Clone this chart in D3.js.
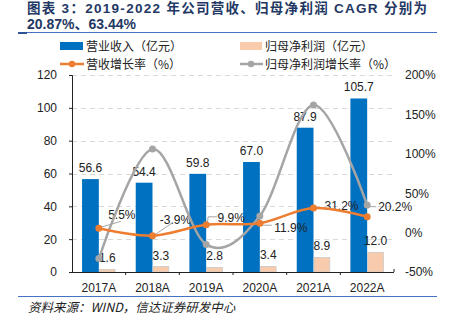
<!DOCTYPE html>
<html><head><meta charset="utf-8">
<script src="https://cdn.jsdelivr.net/npm/d3@7"></script>
<style>body{margin:0;background:#fff}svg{display:block}</style>
</head><body><svg id="c" width="453" height="333"></svg>
<script>
const categories = ["2017A","2018A","2019A","2020A","2021A","2022A"];
const revenue = [56.6,54.4,59.8,67.0,87.9,105.7];
const netProfit = [1.6,3.3,2.8,3.4,8.9,12.0];
const revenueGrowth = [5.5,-3.9,9.9,11.9,31.2,20.2];
const profitGrowth = [-33,106,-15,21,162,35];
const leftTicks = [0,20,40,60,80,100,120];
const rightTicks = [-50,0,50,100,150,200];
const titleLines = ["图表 3：2019-2022 年公司营收、归母净利润 CAGR 分别为","20.87%、63.44%"];
const legendLabels = ["营业收入（亿元）","归母净利润（亿元）","营收增长率（%）","归母净利润增长率（%）"];
const sourceText = "资料来源：WIND，信达证券研发中心";

const FONT = '"Liberation Sans", Arial, "Noto Sans CJK SC", sans-serif';
const CJK = '"Noto Sans CJK SC", "Liberation Sans", sans-serif';
const BLUE = "#0070C0", PEACH = "#F8CBAD", ORANGE = "#ED7D31", GRAY = "#A5A5A5", NAVY = "#1F3864";
const svg = d3.select("#c");
const L = 72, R = 394, T = 75, B = 272;

const x = d3.scaleBand().domain(categories).range([L, R]);
const inner = d3.scaleBand().domain([0,1]).range([0, x.bandwidth()]).paddingOuter(0.6);
const yL = d3.scaleLinear().domain([0,120]).range([B, T]);
const yR = d3.scaleLinear().domain([-50,200]).range([B, T]);
const cx = c => x(c) + x.bandwidth()/2;

// title
svg.append("text").attr("x", 27).attr("y", 13).attr("font-family", FONT).attr("font-weight","bold")
  .attr("font-size", 13.5).attr("fill", NAVY).attr("textLength", 400).attr("lengthAdjust","spacing").text(titleLines[0]);
svg.append("text").attr("x", 27).attr("y", 29).attr("font-family", FONT).attr("font-weight","bold")
  .attr("font-size", 14).attr("fill", NAVY).text(titleLines[1]);
svg.append("line").attr("x1",18).attr("x2",437).attr("y1",32.5).attr("y2",32.5).attr("stroke","#4472C4").attr("stroke-width",1.2);
svg.append("line").attr("x1",18).attr("x2",27).attr("y1",33).attr("y2",33).attr("stroke","#2F5597").attr("stroke-width",2);

// legend
const lg = svg.append("g").attr("font-family", CJK).attr("font-size", 12).attr("fill","#222");
lg.append("rect").attr("x",60).attr("y",42).attr("width",23).attr("height",8).attr("fill",BLUE);
lg.append("text").attr("x",86).attr("y",51).text(legendLabels[0]);
lg.append("rect").attr("x",240).attr("y",42).attr("width",22).attr("height",8).attr("fill",PEACH);
lg.append("text").attr("x",265).attr("y",51).text(legendLabels[1]);
lg.append("line").attr("x1",60).attr("x2",84).attr("y1",64).attr("y2",64).attr("stroke",ORANGE).attr("stroke-width",2.5);
lg.append("circle").attr("cx",72).attr("cy",64).attr("r",3.2).attr("fill",ORANGE);
lg.append("text").attr("x",86).attr("y",68.5).text(legendLabels[2]);
lg.append("line").attr("x1",240).attr("x2",263).attr("y1",64).attr("y2",64).attr("stroke",GRAY).attr("stroke-width",2.5);
lg.append("circle").attr("cx",251).attr("cy",64).attr("r",3.2).attr("fill",GRAY);
lg.append("text").attr("x",265).attr("y",68.5).text(legendLabels[3]);

// grid
svg.append("g").selectAll("line").data(leftTicks.filter(d=>d>0)).join("line")
  .attr("x1",L).attr("x2",R).attr("y1",d=>Math.round(yL(d))+0.5).attr("y2",d=>Math.round(yL(d))+0.5)
  .attr("stroke","#D9D9D9").attr("stroke-dasharray","5,4");

// bars
const g = svg.append("g");
g.selectAll(".rev").data(revenue).join("rect").attr("x",(d,i)=>x(categories[i])+inner(0)).attr("width",inner.bandwidth())
  .attr("y",d=>yL(d)).attr("height",d=>B-yL(d)).attr("fill",BLUE);
g.selectAll(".np").data(netProfit).join("rect").attr("x",(d,i)=>x(categories[i])+inner(1)+0.5).attr("width",inner.bandwidth()-1)
  .attr("y",d=>yL(d)).attr("height",d=>B-yL(d)).attr("fill",PEACH).attr("stroke","#C9C9C9").attr("stroke-width",0.8);

// axes
const axL = svg.append("g").attr("transform",`translate(${L},0)`).call(d3.axisLeft(yL).tickValues(leftTicks).tickSize(3).tickPadding(12));
axL.select(".domain").attr("stroke","#222");
axL.selectAll("text").attr("font-family",FONT).attr("font-size",12).attr("fill","#222");
axL.selectAll(".tick line").attr("stroke","#222");
const axR = svg.append("g").attr("transform",`translate(${R},0)`).call(d3.axisRight(yR).tickValues(rightTicks).tickSize(0).tickPadding(11).tickFormat(d=>d+"%"));
axR.select(".domain").remove();
axR.selectAll("text").attr("font-family",FONT).attr("font-size",12).attr("fill","#222");
const axB = svg.append("g").attr("transform",`translate(0,${B})`).call(d3.axisBottom(x).tickSize(0).tickPadding(11));
axB.select(".domain").attr("stroke","#222").attr("d",`M${L},0.5H${R}`);
axB.selectAll("text").attr("font-family",FONT).attr("font-size",12).attr("fill","#222");
svg.append("g").selectAll("line").data(categories.slice(1).concat([null])).join("line")
  .attr("x1",(d,i)=>i<5?x(d):R).attr("x2",(d,i)=>i<5?x(d):R).attr("y1",B).attr("y2",(d,i)=>i<5?B+3:B-3)
  .attr("stroke","#222");

// bar labels
const lbl = svg.append("g").attr("font-family",FONT).attr("font-size",12).attr("fill","#222").attr("text-anchor","middle");
lbl.selectAll(".rl").data(revenue).join("text").attr("x",(d,i)=>x(categories[i])+inner(0)+inner.bandwidth()/2)
  .attr("y",d=>yL(d)-7).text(d=>d.toFixed(1));
lbl.selectAll(".nl").data(netProfit).join("text").attr("x",(d,i)=>x(categories[i])+inner(1)+inner.bandwidth()/2)
  .attr("y",d=>yL(d)-7).text(d=>d.toFixed(1));

// lines
const curve = d3.curveCatmullRom.alpha(0);
const gl = d3.line().x((d,i)=>cx(categories[i])).y(d=>yR(d)).curve(curve);
svg.append("path").attr("d",gl(profitGrowth)).attr("fill","none").attr("stroke",GRAY).attr("stroke-width",2.5);
svg.append("g").selectAll("circle").data(profitGrowth).join("circle").attr("cx",(d,i)=>cx(categories[i])).attr("cy",d=>yR(d)).attr("r",3.5).attr("fill",GRAY);

// growth labels with leaders
const labelOff = [[23,-14],[23,-16],[25,-7],[31,4],[28,-3],[28,-10]];
const leaderPts = [[[2,-1],[22,-7]],[[1,0],[20,-13]],[[1,0],[2,-8],[11,-8]],[[2,2],[12,2]],null,[[3,-10],[9,-10]]];
svg.append("g").selectAll("path").data(leaderPts).join("path")
  .attr("d",(p,i)=>p?d3.line()(p.map(q=>[cx(categories[i])+q[0], yR(revenueGrowth[i])+q[1]])):null)
  .attr("fill","none").attr("stroke","#A6A6A6").attr("stroke-width",1);

const ol = d3.line().x((d,i)=>cx(categories[i])).y(d=>yR(d)).curve(curve);
svg.append("path").attr("d",ol(revenueGrowth)).attr("fill","none").attr("stroke",ORANGE).attr("stroke-width",2.5);
svg.append("g").selectAll("circle").data(revenueGrowth).join("circle").attr("cx",(d,i)=>cx(categories[i])).attr("cy",d=>yR(d)).attr("r",3.5).attr("fill",ORANGE);

lbl.selectAll(".gl").data(revenueGrowth).join("text").attr("x",(d,i)=>cx(categories[i])+labelOff[i][0])
  .attr("y",(d,i)=>yR(d)+labelOff[i][1]+4.5).text(d=>d.toFixed(1)+"%");

// footer
svg.append("line").attr("x1",18).attr("x2",437).attr("y1",296.5).attr("y2",296.5).attr("stroke","#4472C4").attr("stroke-width",1.2);
svg.append("text").attr("x",28).attr("y",312).attr("font-family",CJK).attr("font-size",12.5).attr("font-style","italic")
  .attr("fill","#222").text(sourceText);
</script></body></html>
